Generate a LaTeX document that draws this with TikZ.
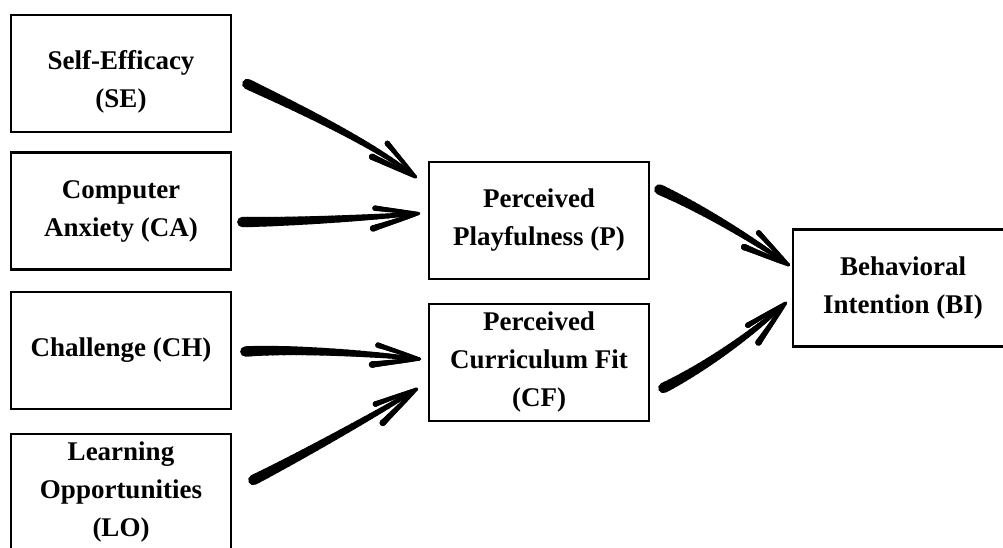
\documentclass[tikz,border=0pt]{standalone}
\usepackage{fontspec}
\setmainfont{Liberation Serif}
\usetikzlibrary{calc}

% tapered brush stroke along a cubic curve: points #1..#4, widths #5 -> #6 (px)
\newcommand\taperstroke[6]{%
  \foreach \k in {0,...,30}{%
    \path #1 .. controls #2 and #3 .. #4 coordinate[pos=\k/30] (tp\k);
  }%
  \foreach \k in {1,...,30}{%
    \pgfmathsetmacro\tw{(#6+(#5-#6)*(1-(\k-0.5)/30)^0.8)*0.75}%
    \pgfmathtruncatemacro\kp{\k-1}%
    \draw[brush, line width=\tw pt] (tp\kp) -- (tp\k);
  }%
}
% hand-drawn arrow: start #1, control offsets #2 (from start) and #3 (from tip), tip #4
\newcommand\brusharrow[4]{%
  \coordinate (bs) at #1;
  \coordinate (be) at #4;
  \coordinate (bc1) at ($(bs)+#2$);
  \coordinate (bc2) at ($(be)+#3$);
  \taperstroke{(bs)}{(bc1)}{(bc2)}{(be)}{10.5}{3}
  \coordinate (bA) at ($(be)!36pt!13:(bc2)$);
  \coordinate (bB) at ($(be)!33pt!-12:(bc2)$);
  \taperstroke{(bA)}{(bA)}{(be)}{(be)}{6.5}{2.5}
  \taperstroke{(bB)}{(bB)}{(be)}{(be)}{5.5}{2.5}
}
% tall strut that pushes a text block down inside its box
\newcommand\topstrut{\rule{0pt}{27pt}}

\tikzset{
  brush/.style={line cap=round, black},
  box/.style={draw, line width=2pt, rectangle, inner sep=0pt,
    minimum width=165pt, minimum height=87.75pt, align=center,
    font=\bfseries\fontsize{20.25pt}{28.5pt}\selectfont},
}

\begin{document}
\begin{tikzpicture}[x=0.75pt, y=-0.75pt]
\useasboundingbox (0,0) rectangle (1003,548);
\fill[white] (0,0) rectangle (1003,548);

% source constructs
\node[box] (SE) at (121,73.5) {\topstrut Self-Efficacy\\(SE)};
\node[box] (CA) at (121,211) {Computer\\Anxiety (CA)};
\node[box] (CH) at (121,350.5) {Challenge (CH)};
\node[box] (LO) at (121,492.5) {Learning\\Opportunities\\(LO)};

% mediators
\node[box] (P) at (539,220.5) {Perceived\\Playfulness (P)};
\node[box] (CF) at (539,362.5) {Perceived\\Curriculum Fit\\(CF)};

% outcome
\node[box] (BI) at (903,288) {Behavioral\\Intention (BI)};

% paths
\brusharrow{($(SE.east)+(15,10.5)$)}{(44,21)}{(-45,-35)}{($(P.west)+(-12,-43.5)$)}
\brusharrow{($(CA.east)+(10,11)$)}{(50,0)}{(-45,4)}{($(P.west)+(-9,-7)$)}
\brusharrow{($(CH.east)+(13,1)$)}{(50,-3)}{(-45,-5)}{($(CF.west)+(-8,-3.5)$)}
\brusharrow{($(LO.east)+(21,-12.5)$)}{(40,-20)}{(-40,25)}{($(CF.west)+(-11,26.5)$)}
\brusharrow{($(P.east)+(9,-31)$)}{(40,18)}{(-40,-28)}{($(BI.west)+(-3,-23)$)}
\brusharrow{($(CF.east)+(13,25.5)$)}{(40,-20)}{(-35,32)}{($(BI.west)+(-6,15)$)}
\end{tikzpicture}
\end{document}
